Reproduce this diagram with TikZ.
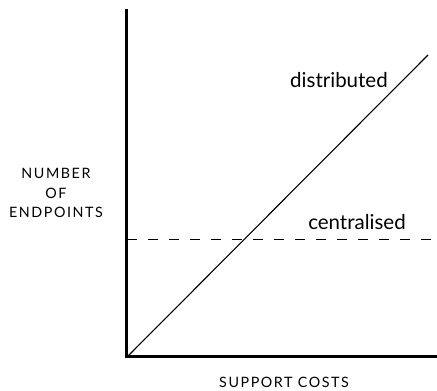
\documentclass[tikz,border=0pt]{standalone}
\usepackage{fontspec}
\setmainfont{Lato}
\usepackage{tikz}
\usetikzlibrary{calc}

\tikzset{
  axisline/.style={line width=3pt},
  growth/.style={line width=1.1pt},
  flatline/.style={line width=1pt, dash pattern=on 10pt off 11pt},
  curvelabel/.style={anchor=base, font=\fontsize{20.5}{22}\selectfont},
  axislabel/.style={align=center, font=\fontsize{14.3}{19.5}\selectfont\addfontfeatures{LetterSpace=11}}
}

\begin{document}
\begin{tikzpicture}[x=1pt,y=1pt]
\useasboundingbox (-127,-34) rectangle (310,357);
% axes
\coordinate (origin) at (0,0);
\coordinate (ytop) at (0,348);
\coordinate (xend) at (310,0);
\draw[axisline] (ytop) -- (origin) -- (xend);
% the two cost lines
\coordinate (distend) at (301,302);
\coordinate (centstart) at (0,117);
\coordinate (centend) at (310,117);
\draw[growth] (origin) -- (distend);
\draw[flatline] (centstart) -- (centend);
\node[curvelabel] (distlabel) at (212,269) {distributed};
\node[curvelabel] (centlabel) at (230,127) {centralised};
% axis titles
\node[axislabel] (ylabel) at (-71,164) {NUMBER\\OF\\ENDPOINTS};
\node[axislabel] (xlabel) at (157,-25) {SUPPORT COSTS};
\end{tikzpicture}
\end{document}
